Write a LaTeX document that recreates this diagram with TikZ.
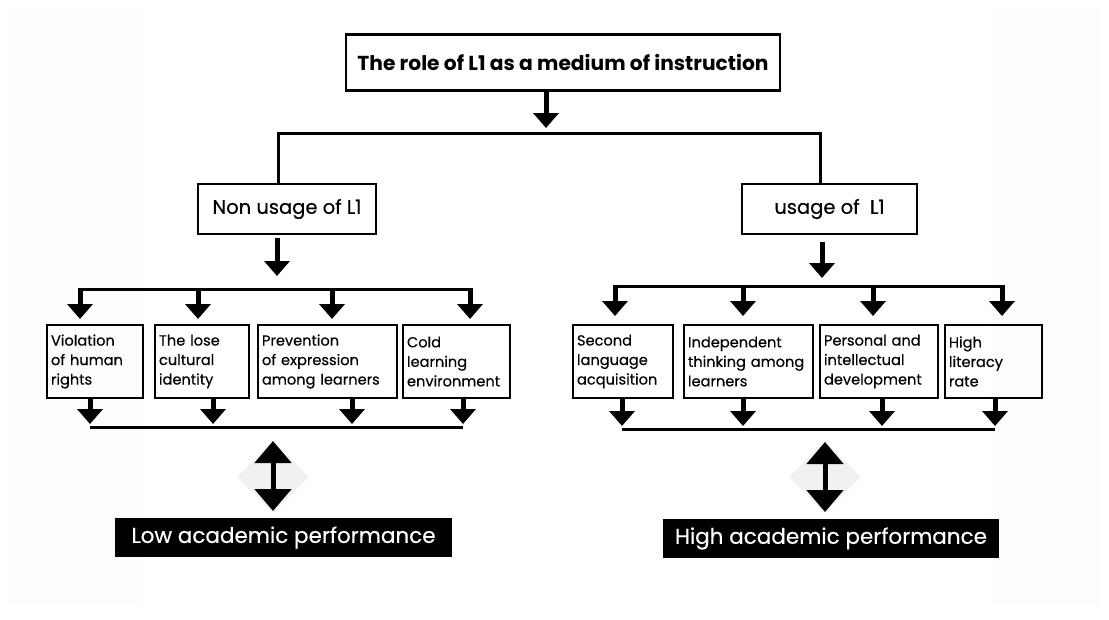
\documentclass[tikz,border=0pt]{standalone}
\usepackage{fontspec}
\setmainfont{Poppins}
\newfontfamily\medfont{Poppins}[FakeBold=0.35]
\usetikzlibrary{arrows.meta,shapes.geometric}
\definecolor{faint}{HTML}{FDFDFD}
\definecolor{diam}{HTML}{F1F1F1}
\begin{document}
\begin{tikzpicture}[x=1pt,y=-1pt,
 box/.style={draw,line width=2.2pt,inner sep=5pt},
 item/.style={box,inner xsep=4pt,align=left,minimum height=73,font=\medfont\fontsize{14.6}{19.5}\selectfont},
 ln/.style={line width=3pt},
 arr/.style={line width=5pt,-{Triangle[width=25pt,length=15pt]}},
 darr/.style={line width=5pt,{Triangle[width=36pt,length=22pt]}-{Triangle[width=36pt,length=22pt]}},
 res/.style={fill=black,text=white,font=\medfont\fontsize{21.5}{26}\selectfont,inner sep=0pt,minimum height=39},
 shade/.style={diamond,fill=diam,minimum width=72,minimum height=72,inner sep=0pt}]
\useasboundingbox (0,0) rectangle (1109,619);
\fill[white] (0,0) rectangle (1109,619);
\fill[faint] (7,7) rectangle (142,605);
\fill[faint] (990,7) rectangle (1100,605);

% title
\node[box,minimum width=434,minimum height=56,font=\fontsize{20.2}{24}\selectfont\bfseries] (title) at (563,62.5) {The role of L1 as a medium of instruction};
\coordinate (tA) at (546,91);
\coordinate (tB) at (546,128);
\draw[arr] (tA) -- (tB);
\coordinate (jl) at (278,133);
\coordinate (jr) at (820,133);

% second level
\node[box,minimum width=178,minimum height=50,font=\medfont\fontsize{19.5}{22}\selectfont] (nu) at (287,209) {Non usage of L1};
\node[box,minimum width=175,minimum height=50,font=\medfont\fontsize{19.5}{22}\selectfont] (us) at (829.5,209) {usage of~~L1};
\draw[ln] (nu.north -| jl) -- (jl) -- (jr) -- (us.north -| jr);

\coordinate (nuA) at (277,238);
\coordinate (nuB) at (277,276);
\draw[arr] (nuA) -- (nuB);
\coordinate (usA) at (822,242);
\coordinate (usB) at (822,278);
\draw[arr] (usA) -- (usB);

% left items
\node[item,minimum width=96,text width=88] (l1) at (95,361.5) {Violation\\of human\\rights};
\node[item,minimum width=94,text width=86] (l2) at (202,361.5) {The lose\\cultural\\identity};
\node[item,minimum width=139,text width=131] (l3) at (327.5,361.5) {Prevention\\of expression\\among learners};
\node[item,minimum width=107,text width=99] (l4) at (456.5,361.5) {Cold\\learning\\environment};

% right items
\node[item,minimum width=100,text width=92] (r1) at (623,361.5) {Second\\language\\acquisition};
\node[item,minimum width=129,text width=121] (r2) at (748.5,361.5) {Independent\\thinking~among\\learners};
\node[item,minimum width=118,text width=110] (r3) at (879,361.5) {Personal and\\intellectual\\development};
\node[item,minimum width=97,text width=89] (r4) at (993.5,361.5) {High\\literacy\\rate};

% left distribution
\coordinate (ld) at (80,289);
\coordinate (ldR) at (470,289);
\draw[ln] (ld) -- (ldR);
\foreach \x in {80,198,332,470}{
  \draw[arr] (\x,287.5) -- (\x,319);
}
% right distribution
\coordinate (rd) at (615,286);
\coordinate (rdR) at (1002,286);
\draw[ln] (rd) -- (rdR);
\foreach \x in {615,743,873,1002}{
  \draw[arr] (\x,284.5) -- (\x,316);
}

% left collection
\foreach \x in {90,213,352,463}{
  \draw[arr] (\x,398) -- (\x,424);
}
\coordinate (lc) at (90,427);
\coordinate (lcR) at (463,427);
\draw[ln] (lc) -- (lcR);
% right collection
\foreach \x in {622,743,882,995}{
  \draw[arr] (\x,398) -- (\x,426);
}
\coordinate (rc) at (622,429);
\coordinate (rcR) at (995,429);
\draw[ln] (rc) -- (rcR);

% results
\node[shade] (dl) at (273,477) {};
\node[shade] (dr) at (825,477) {};
\node[res,minimum width=337] (low) at (283.5,537.5) {Low academic performance};
\node[res,minimum width=336] (high) at (831,538.5) {High academic performance};
\coordinate (dlT) at (273,441);
\coordinate (dlB) at (273,511);
\coordinate (drT) at (825,442);
\coordinate (drB) at (825,512);
\draw[darr] (dlT) -- (dlB);
\draw[darr] (drT) -- (drB);
\end{tikzpicture}
\end{document}
